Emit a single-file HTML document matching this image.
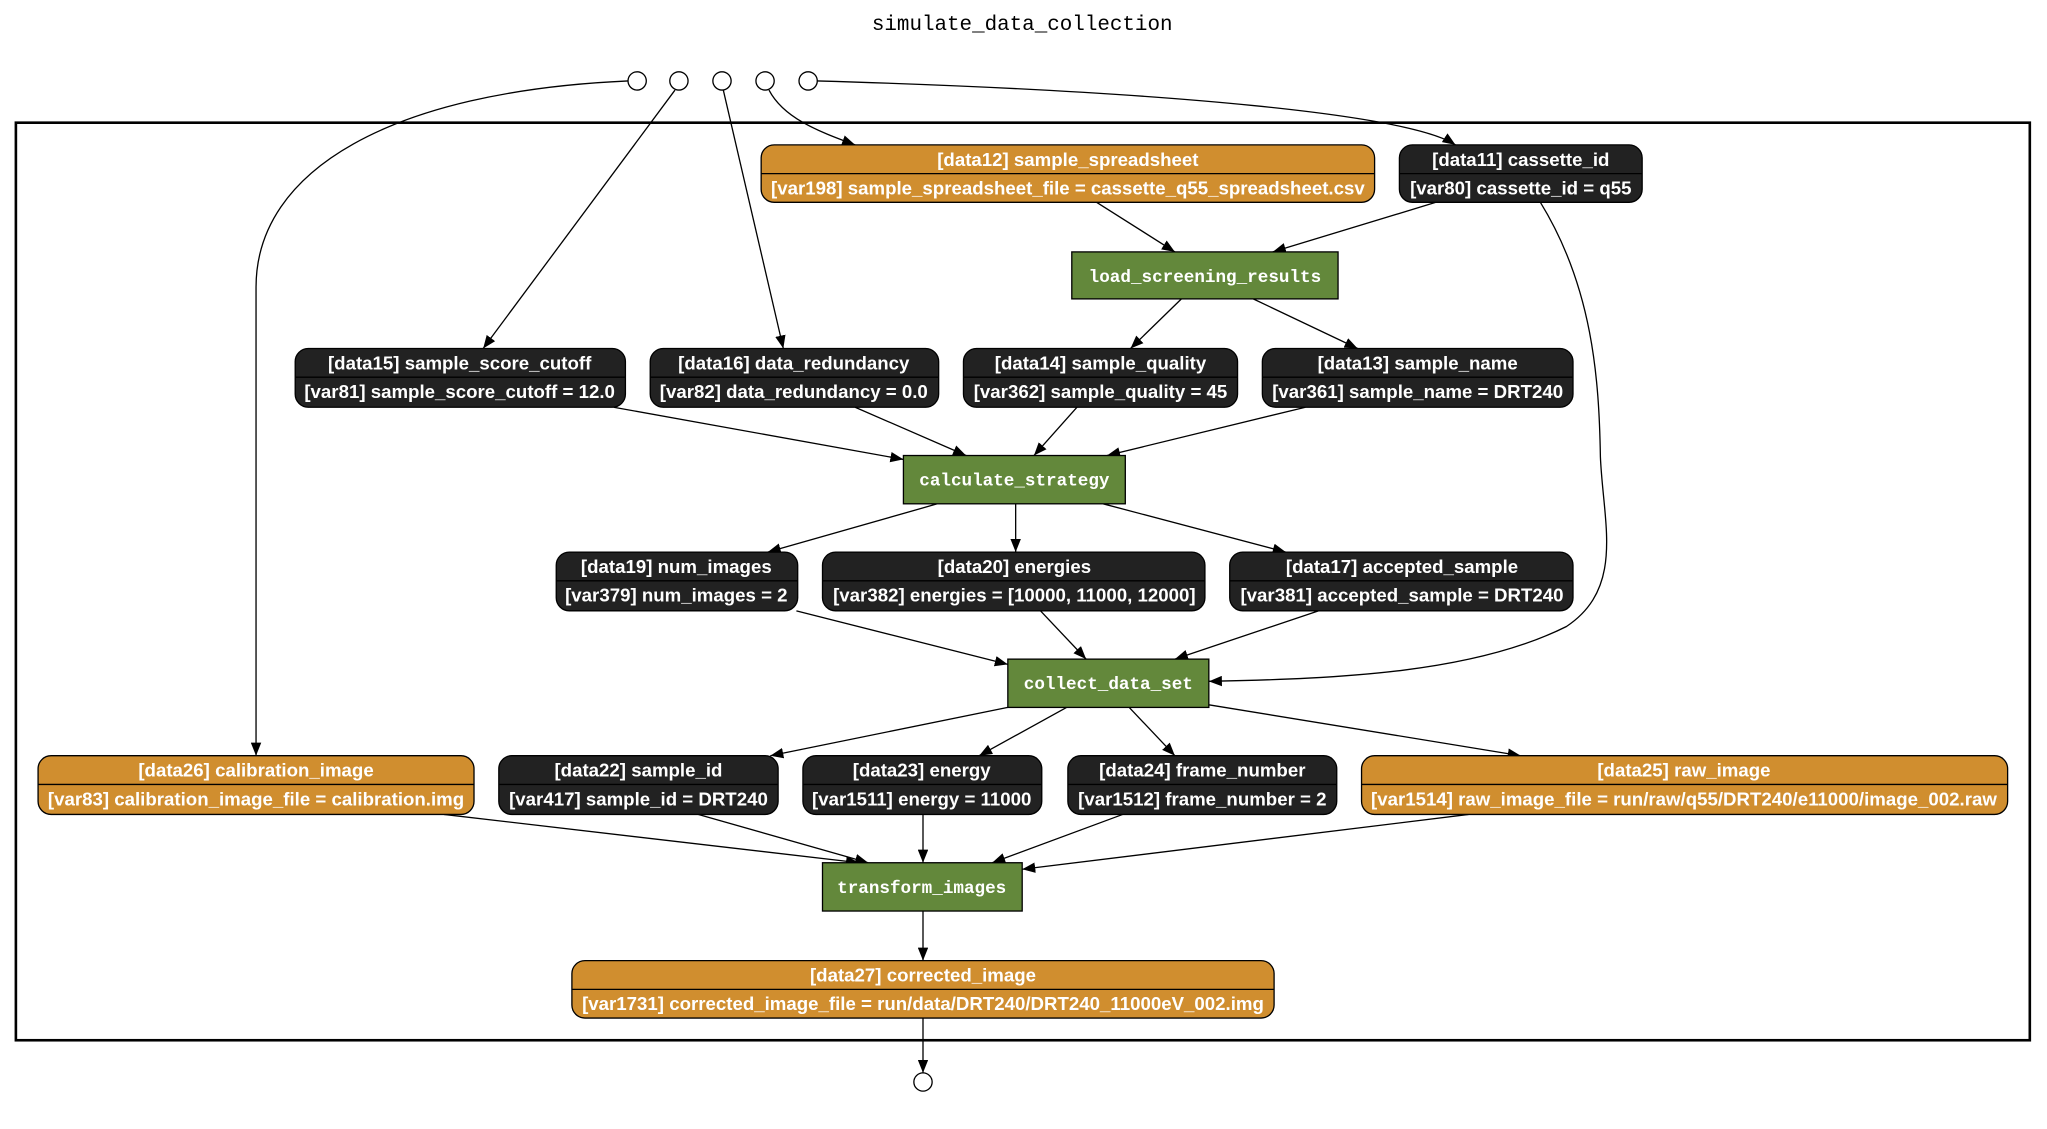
<!DOCTYPE html>
<html><head><meta charset="utf-8"><style>html,body{margin:0;padding:0;background:#fff}svg{display:block}</style></head>
<body>
<svg width="2047" height="1129" viewBox="0 0 1568 865" xmlns="http://www.w3.org/2000/svg">
<defs>
<marker id="a" markerWidth="10" markerHeight="8" refX="10" refY="4" orient="auto" markerUnits="userSpaceOnUse"><path d="M0,0 L10,4 L0,8 z" fill="#000"/></marker>
<style>
.n{stroke:#000;stroke-width:1}
.t{font-family:"Liberation Sans",sans-serif;font-weight:bold;font-size:14.3px;fill:#fff;text-anchor:middle}
.p{font-family:"Liberation Mono",monospace;font-weight:bold;font-size:13.5px;fill:#fff;text-anchor:middle}
.e{fill:none;stroke:#000;stroke-width:1;marker-end:url(#a)}
</style>
</defs>
<text x="783" y="23" font-family="Liberation Mono,monospace" font-size="16" text-anchor="middle">simulate_data_collection</text>
<rect x="12" y="94" width="1543" height="703" fill="none" stroke="#000" stroke-width="2"/>
<g fill="#fff" stroke="#000">
<circle cx="488" cy="62" r="7"/><circle cx="520" cy="62" r="7"/><circle cx="553" cy="62" r="7"/><circle cx="586" cy="62" r="7"/><circle cx="619" cy="62" r="7"/><circle cx="707" cy="829" r="7"/>
</g>
<path class="e" d="M481,62 C300,70 196,130 196,220 L196,579"/>
<path class="e" d="M517,69 L370,267"/>
<path class="e" d="M554,69 L600,267"/>
<path class="e" d="M589,69 C600,90 625,100 655,111"/>
<path class="e" d="M626,62 C900,70 1080,88 1115,111"/>
<path class="e" d="M840,155 L900,193"/>
<path class="e" d="M1100,155 L975,193"/>
<path class="e" d="M1180,155 C1220,220 1225,290 1226,350 C1228,400 1245,450 1200,480 C1130,515 1030,520 926,522"/>
<path class="e" d="M905,229 L866,267"/>
<path class="e" d="M960,229 L1040,267"/>
<path class="e" d="M470,312 L692,352"/>
<path class="e" d="M655,312 L740,349"/>
<path class="e" d="M825,312 L792,349"/>
<path class="e" d="M1000,312 L848,349"/>
<path class="e" d="M718,386 L588,423"/>
<path class="e" d="M778,386 L778,423"/>
<path class="e" d="M845,386 L985,423"/>
<path class="e" d="M610,468 L772,509"/>
<path class="e" d="M797,468 L832,505"/>
<path class="e" d="M1010,468 L900,505"/>
<path class="e" d="M772,542 L590,579"/>
<path class="e" d="M817,542 L750,579"/>
<path class="e" d="M865,542 L900,579"/>
<path class="e" d="M926,540 L1165,579"/>
<path class="e" d="M340,624 L658,661"/>
<path class="e" d="M535,624 L665,661"/>
<path class="e" d="M707,624 L707,661"/>
<path class="e" d="M860,624 L760,661"/>
<path class="e" d="M1125,624 L783,666"/>
<path class="e" d="M707,698 L707,736"/>
<path class="e" d="M707,780 L707,822"/>
<g>
<rect class="n" x="583" y="111" width="470" height="44" rx="10" fill="#D08E2F"/><line x1="583" y1="133" x2="1053" y2="133" stroke="#000"/>
<text class="t" x="818" y="127">[data12] sample_spreadsheet</text><text class="t" x="818" y="149">[var198] sample_spreadsheet_file = cassette_q55_spreadsheet.csv</text>

<rect class="n" x="1072" y="111" width="186" height="44" rx="10" fill="#222"/><line x1="1072" y1="133" x2="1258" y2="133" stroke="#000"/>
<text class="t" x="1165" y="127">[data11] cassette_id</text><text class="t" x="1165" y="149">[var80] cassette_id = q55</text>

<rect class="n" x="226" y="267" width="253" height="45" rx="10" fill="#222"/><line x1="226" y1="289" x2="479" y2="289" stroke="#000"/>
<text class="t" x="352" y="283">[data15] sample_score_cutoff</text><text class="t" x="352" y="305">[var81] sample_score_cutoff = 12.0</text>

<rect class="n" x="498" y="267" width="221" height="45" rx="10" fill="#222"/><line x1="498" y1="289" x2="719" y2="289" stroke="#000"/>
<text class="t" x="608" y="283">[data16] data_redundancy</text><text class="t" x="608" y="305">[var82] data_redundancy = 0.0</text>

<rect class="n" x="738" y="267" width="210" height="45" rx="10" fill="#222"/><line x1="738" y1="289" x2="948" y2="289" stroke="#000"/>
<text class="t" x="843" y="283">[data14] sample_quality</text><text class="t" x="843" y="305">[var362] sample_quality = 45</text>

<rect class="n" x="967" y="267" width="238" height="45" rx="10" fill="#222"/><line x1="967" y1="289" x2="1205" y2="289" stroke="#000"/>
<text class="t" x="1086" y="283">[data13] sample_name</text><text class="t" x="1086" y="305">[var361] sample_name = DRT240</text>

<rect class="n" x="426" y="423" width="185" height="45" rx="10" fill="#222"/><line x1="426" y1="445" x2="611" y2="445" stroke="#000"/>
<text class="t" x="518" y="439">[data19] num_images</text><text class="t" x="518" y="461">[var379] num_images = 2</text>

<rect class="n" x="630" y="423" width="293" height="45" rx="10" fill="#222"/><line x1="630" y1="445" x2="923" y2="445" stroke="#000"/>
<text class="t" x="777" y="439">[data20] energies</text><text class="t" x="777" y="461">[var382] energies = [10000, 11000, 12000]</text>

<rect class="n" x="942" y="423" width="263" height="45" rx="10" fill="#222"/><line x1="942" y1="445" x2="1205" y2="445" stroke="#000"/>
<text class="t" x="1074" y="439">[data17] accepted_sample</text><text class="t" x="1074" y="461">[var381] accepted_sample = DRT240</text>

<rect class="n" x="29" y="579" width="334" height="45" rx="10" fill="#D08E2F"/><line x1="29" y1="601" x2="363" y2="601" stroke="#000"/>
<text class="t" x="196" y="595">[data26] calibration_image</text><text class="t" x="196" y="617">[var83] calibration_image_file = calibration.img</text>

<rect class="n" x="382" y="579" width="214" height="45" rx="10" fill="#222"/><line x1="382" y1="601" x2="596" y2="601" stroke="#000"/>
<text class="t" x="489" y="595">[data22] sample_id</text><text class="t" x="489" y="617">[var417] sample_id = DRT240</text>

<rect class="n" x="615" y="579" width="183" height="45" rx="10" fill="#222"/><line x1="615" y1="601" x2="798" y2="601" stroke="#000"/>
<text class="t" x="706" y="595">[data23] energy</text><text class="t" x="706" y="617">[var1511] energy = 11000</text>

<rect class="n" x="818" y="579" width="206" height="45" rx="10" fill="#222"/><line x1="818" y1="601" x2="1024" y2="601" stroke="#000"/>
<text class="t" x="921" y="595">[data24] frame_number</text><text class="t" x="921" y="617">[var1512] frame_number = 2</text>

<rect class="n" x="1043" y="579" width="495" height="45" rx="10" fill="#D08E2F"/><line x1="1043" y1="601" x2="1538" y2="601" stroke="#000"/>
<text class="t" x="1290" y="595">[data25] raw_image</text><text class="t" x="1290" y="617">[var1514] raw_image_file = run/raw/q55/DRT240/e11000/image_002.raw</text>

<rect class="n" x="438" y="736" width="538" height="44" rx="10" fill="#D08E2F"/><line x1="438" y1="758" x2="976" y2="758" stroke="#000"/>
<text class="t" x="707" y="752">[data27] corrected_image</text><text class="t" x="707" y="774">[var1731] corrected_image_file = run/data/DRT240/DRT240_11000eV_002.img</text>
</g>
<rect class="n" x="821" y="193" width="204" height="36" fill="#63883B"/><text class="p" x="923" y="216">load_screening_results</text>
<rect class="n" x="692" y="349" width="170" height="37" fill="#63883B"/><text class="p" x="777" y="372">calculate_strategy</text>
<rect class="n" x="772" y="505" width="154" height="37" fill="#63883B"/><text class="p" x="849" y="528">collect_data_set</text>
<rect class="n" x="630" y="661" width="153" height="37" fill="#63883B"/><text class="p" x="706" y="684">transform_images</text>
</svg>
</body></html>
